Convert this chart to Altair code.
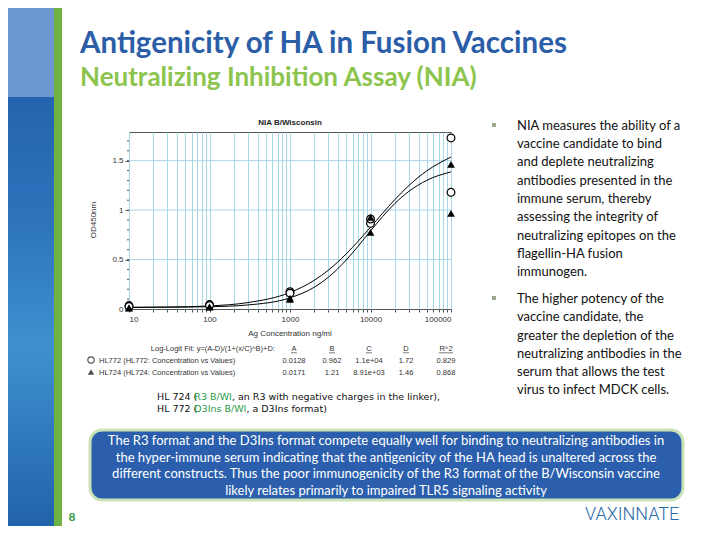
import altair as alt
import pandas as pd

# ---------------- data ----------------
conc_points = [10, 100, 1000, 10000, 100000]
hl772_rep1 = [0.035, 0.045, 0.175, 0.866, 1.73]
hl772_rep2 = [0.025, 0.035, 0.160, 0.910, 1.18]
hl724_rep1 = [0.012, 0.022, 0.098, 0.927, 1.463]
hl724_rep2 = [0.008, 0.018, 0.110, 0.775, 0.967]

curve_x = [10, 30, 100, 300, 1000, 2000, 3000, 5000, 7000, 10000, 20000, 30000, 50000, 100000]
hl772_curve = [0.015, 0.019, 0.031, 0.065, 0.167, 0.290, 0.393, 0.558, 0.684, 0.827, 1.105, 1.249, 1.397, 1.537]
hl724_curve = [0.0175, 0.019, 0.023, 0.041, 0.113, 0.220, 0.322, 0.496, 0.634, 0.789, 1.066, 1.190, 1.301, 1.387]

x_tick_labels = ["10", "100", "1000", "10000", "100000"]
y_tick_labels = ["0", "0.5", "1", "1.5"]

fit_names = ["HL772 (HL772: Concentration vs Values)", "HL724 (HL724: Concentration vs Values)"]
fit_A = ["0.0128", "0.0171"]
fit_B = ["0.962", "1.21"]
fit_C = ["1.1e+04", "8.91e+03"]
fit_D = ["1.72", "1.46"]
fit_R2 = ["0.829", "0.868"]

bullet1 = ["NIA measures the ability of a", "vaccine candidate to bind", "and deplete neutralizing",
           "antibodies presented in the", "immune serum, thereby", "assessing the integrity of",
           "neutralizing epitopes on the", "flagellin-HA fusion", "immunogen."]
bullet2 = ["The higher potency of the", "vaccine candidate, the", "greater the depletion of the",
           "neutralizing antibodies in the", "serum that allows the test", "virus to infect MDCK cells."]
box_lines = ["The R3 format and the D3Ins format compete equally well for binding to neutralizing antibodies in",
             "the hyper-immune serum indicating that the antigenicity of the HA head is unaltered across the",
             "different constructs. Thus the poor immunogenicity of the R3 format of the B/Wisconsin vaccine",
             "likely relates primarily to impaired TLR5 signaling activity"]
caption1 = ["HL 724 (", "R3 B/WI", ", an R3 with negative charges in the linker),"]
caption2 = ["HL 772 (", "D3Ins B/WI", " , a D3Ins format)"]

# ---------------- tables ----------------
pts772 = pd.DataFrame({"conc": conc_points * 2, "od": hl772_rep1 + hl772_rep2})
pts724 = pd.DataFrame({"conc": conc_points * 2, "od": hl724_rep1 + hl724_rep2})
curves = pd.DataFrame({
    "conc": curve_x * 2,
    "od": hl772_curve + hl724_curve,
    "series": ["HL772"] * len(curve_x) + ["HL724"] * len(curve_x),
})
y_major = [float(v) for v in y_tick_labels]
ygrid = pd.DataFrame({"od": y_major[1:]})
yminor = pd.DataFrame({"od": [round(i * 0.1, 1) for i in range(18)]})

decades = [int(v) for v in x_tick_labels]
x_values = [d * k for d in decades[:-1] for k in range(1, 10)] + [decades[-1]]

# ---------------- layout ----------------
OX, OY = 129, 132          # page position of plot origin
PW, PH = 322, 177
one = pd.DataFrame({"k": [0]})


def txt(s, x, y, size=12, color="#000", font="Lato", weight="normal", align="left", angle=0,
        baseline="alphabetic"):
    return alt.Chart(one).mark_text(text=s, fontSize=size, color=color, font=font, fontWeight=weight,
                                    align=align, angle=angle, baseline=baseline).encode(
        x=alt.value(x - OX), y=alt.value(y - OY))


def rect(x1, y1, x2, y2, **kw):
    return alt.Chart(one).mark_rect(**kw).encode(
        x=alt.value(x1 - OX), x2=alt.value(x2 - OX), y=alt.value(y1 - OY), y2=alt.value(y2 - OY))


def sym(x, y, shape, filled):
    if filled:
        m = alt.Chart(one).mark_point(shape=shape, filled=True, color="black", size=40)
    else:
        m = alt.Chart(one).mark_point(shape=shape, fill="white", stroke="black", strokeWidth=1.1, size=40)
    return m.encode(x=alt.value(x - OX), y=alt.value(y - OY))


xscale = alt.Scale(type="log", domain=[10, 100000], nice=False)
yscale = alt.Scale(domain=[0, 1.79], nice=False)
xaxis = alt.Axis(values=x_values, format="d",
                 labelExpr="indexof([" + ",".join(x_tick_labels) + "], datum.value) >= 0 ? datum.label : ''",
                 labelOverlap=False,
                 grid=True, gridColor="#a8d7e6", gridWidth=1, tickSize=3, tickColor="#555", domain=False,
                 labelFont="Liberation Sans", labelFontSize=8, labelColor="#333", labelPadding=3, title=None)
yaxis = alt.Axis(values=y_major, format="~g", labelOverlap=False, grid=False,
                 tickSize=4, tickColor="#555", domain=False,
                 labelFont="Liberation Sans", labelFontSize=8, labelColor="#333", labelPadding=2, title=None)

grid_layer = alt.Chart(ygrid).mark_rule(color="#a8d7e6", strokeWidth=1).encode(
    y=alt.Y("od:Q", scale=yscale, axis=yaxis))
minor_layer = alt.Chart(yminor).mark_rule(color="#555", strokeWidth=1).encode(
    y=alt.Y("od:Q", scale=yscale), x=alt.value(-2), x2=alt.value(0))
line_layer = alt.Chart(curves).mark_line(color="black", strokeWidth=1, interpolate="monotone").encode(
    x=alt.X("conc:Q", scale=xscale, axis=xaxis),
    y=alt.Y("od:Q", scale=yscale, axis=yaxis),
    detail="series:N")
circ_layer = alt.Chart(pts772).mark_point(shape="circle", fill="white", stroke="black", strokeWidth=1.2,
                                          size=60, fillOpacity=1).encode(
    x=alt.X("conc:Q", scale=xscale), y=alt.Y("od:Q", scale=yscale))
tri_layer = alt.Chart(pts724).mark_point(shape="triangle-up", filled=True, color="black", size=60,
                                         opacity=1).encode(
    x=alt.X("conc:Q", scale=xscale), y=alt.Y("od:Q", scale=yscale))

layers = []
# slide decoration
layers.append(rect(0, 0, 54, 560, color=alt.LinearGradient(
    gradient="linear", x1=0, y1=0, x2=0, y2=1,
    stops=[alt.GradientStop(color="#1d58a3", offset=0), alt.GradientStop(color="#2d74bd", offset=0.4),
           alt.GradientStop(color="#3f90d0", offset=0.62), alt.GradientStop(color="#1b5aa6", offset=1)])))
layers.append(rect(0, 0, 54, 97, color="#6d97d0"))
layers.append(rect(54, 0, 62, 560, color="#6fb244"))

layers += [grid_layer, minor_layer, line_layer, circ_layer, tri_layer]

# titles
layers.append(txt("Antigenicity of HA in Fusion Vaccines", 80, 53, size=29.5, color="#2c5ea8", weight="bold"))
layers.append(txt("Neutralizing Inhibition Assay (NIA)", 80, 86, size=26, color="#8cc44e", weight="bold"))

# chart texts
layers.append(txt("NIA B/Wisconsin", 290, 125, size=8, color="#222", font="Liberation Sans", weight="bold",
                  align="center"))
layers.append(txt("Ag Concentration ng/ml", 290, 336, size=8, color="#333", font="Liberation Sans", align="center"))
layers.append(txt("OD450nm", 94, 220, size=8, color="#333", font="Liberation Sans", align="center", angle=270,
                  baseline="middle"))

# fit table
small = dict(size=7.5, color="#333", font="Liberation Sans")
layers.append(txt("Log-Logit Fit: y=(A-D)/(1+(x/C)^B)+D:", 275, 351, align="right", **small))
col_x = [294, 332, 369, 406, 446]
headers = ["A", "B", "C", "D", "R^2"]
for cx, h in zip(col_x, headers):
    layers.append(txt(h, cx, 351, align="center", **small))
    w = 3 if len(h) == 1 else 7
    layers.append(rect(cx - w, 352.5, cx + w, 353.2, color="#444"))
row_y = [363, 375]
for i, ry in enumerate(row_y):
    layers.append(txt(fit_names[i], 99, ry, **small))
    for cx, col in zip(col_x, [fit_A, fit_B, fit_C, fit_D, fit_R2]):
        layers.append(txt(col[i], cx, ry, align="center", **small))
layers.append(sym(91, 360, "circle", False))
layers.append(sym(91, 372, "triangle-up", True))

# caption with green parts (segment starts from DejaVu Sans advance widths at 9.5px)
cap = dict(size=9.5, font="DejaVu Sans")
cap_green = "#2b9b4a"
seg_x1 = [157, 194.3, 231.9]
seg_x2 = [157, 194.3, 246.4]
for s, sx, c in zip(caption1, seg_x1, ["#111", cap_green, "#111"]):
    layers.append(txt(s, sx, 400, color=c, **cap))
for s, sx, c in zip(caption2, seg_x2, ["#111", cap_green, "#111"]):
    layers.append(txt(s, sx, 412, color=c, **cap))

# bullets
b1_y = [125, 143, 161, 180, 198, 216, 235, 253, 271]
b2_y = [298, 316, 335, 353, 371, 389]
for s, yy in zip(bullet1, b1_y):
    layers.append(txt(s, 517, yy + 4.5, size=13, color="#111"))
for s, yy in zip(bullet2, b2_y):
    layers.append(txt(s, 517, yy + 4.5, size=13, color="#111"))
layers.append(rect(492, 123, 496, 127, color="#9aa88a"))
layers.append(rect(492, 296, 496, 300, color="#9aa88a"))

# conclusion box
layers.append(rect(90, 430, 683, 500, color="#2b5fad", stroke="#c9e2b6", strokeWidth=3, cornerRadius=12))
for s, yy in zip(box_lines, [440, 457, 473, 490]):
    layers.append(txt(s, 386, yy + 4.5, size=13, color="white", align="center"))

# footer
layers.append(txt("8", 72, 521, size=12, color="#2e9a3e", weight="bold", align="center"))
layers.append(txt("VAXINNATE", 585, 520, size=18, color="#2a6ca8", font="Roboto", weight=300))

chart = alt.layer(*layers).properties(
    width=PW, height=PH,
    padding={"left": OX - 8, "top": OY - 8, "right": 700 - (OX - 8) - PW, "bottom": 518 - (OY - 8) - PH},
    autosize=alt.AutoSizeParams(type="none"),
    background="white",
).configure_view(stroke="#555", strokeWidth=1)

chart.save("out.html", embed_options={"renderer": "svg", "actions": False})
